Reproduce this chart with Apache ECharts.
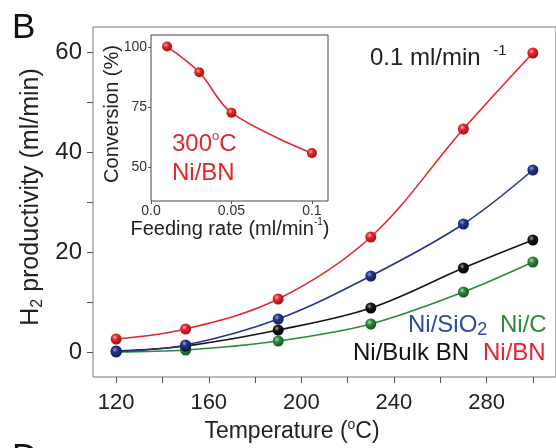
<!DOCTYPE html>
<html>
<head>
<meta charset="utf-8">
<script src="https://cdn.jsdelivr.net/npm/echarts@6/dist/echarts.min.js"></script>
<style>
  html, body { margin: 0; padding: 0; background: #fff; }
  #chart { width: 556px; height: 448px; }
</style>
</head>
<body>
<div id="chart"></div>
<script>
// Temperatures (°C) at which H2 productivity was measured
const temperatures = [120, 150, 190, 230, 270, 300];

// H2 productivity (ml/min) per catalyst
const niBN     = [2.6, 4.6, 10.6, 23.0, 44.6, 59.8];
const niSiO2   = [0.1, 1.4, 6.6, 15.2, 25.6, 36.4];
const niBulkBN = [0.2, 1.2, 4.4, 8.8, 16.8, 22.4];
const niC      = [0.0, 0.4, 2.2, 5.6, 12.0, 18.0];

// Inset: conversion of Ni/BN at 300 °C vs feeding rate
const feedingRates = [0.01, 0.03, 0.05, 0.1];
const conversion   = [100.2, 89.5, 72.7, 55.9];

// Tick positions and labels
const tempTicks   = [120, 140, 160, 180, 200, 220, 240, 260, 280, 300];
const tempLabels  = [120, 160, 200, 240, 280];
const prodTicks   = [0, 10, 20, 30, 40, 50, 60];
const prodLabels  = [0, 20, 40, 60];
const rateTicks   = [0, 0.05, 0.1];
const convTicks   = [50, 75, 100];

const FONT = 'Liberation Sans, Arial, sans-serif';

function ball(c, light, dark) {
  return new echarts.graphic.RadialGradient(0.38, 0.35, 0.7, [
    { offset: 0, color: light },
    { offset: 0.35, color: c },
    { offset: 1, color: dark }
  ]);
}

function curve(name, xs, ys, color, light, dark, xi, yi, size) {
  return {
    name: name,
    type: 'line',
    xAxisIndex: xi, yAxisIndex: yi,
    data: xs.map((x, i) => [x, ys[i]]),
    smooth: 0.35,
    symbol: 'circle',
    symbolSize: size,
    lineStyle: { color: color, width: 1.6 },
    itemStyle: { color: ball(color, light, dark), borderWidth: 0 },
    emphasis: { disabled: true },
    z: 3
  };
}

const tickStyle = { color: '#555', width: 1 };

const chart = echarts.init(document.getElementById('chart'), null, { renderer: 'canvas' });
chart.setOption({
  animation: false,
  backgroundColor: '#fff',
  grid: [
    { left: 93, top: 27, width: 467, height: 350, show: true, borderColor: '#777', borderWidth: 1, backgroundColor: 'transparent' },
    { left: 151, top: 35, width: 177, height: 166, show: true, borderColor: '#444', borderWidth: 1, backgroundColor: '#fff', z: 5 }
  ],
  xAxis: [
    {
      gridIndex: 0, type: 'value', min: 110, max: 310,
      axisLine: { show: false, onZero: false },
      splitLine: { show: false },
      axisTick: { show: true, inside: false, length: 6, lineStyle: tickStyle, customValues: tempTicks },
      axisLabel: { customValues: tempLabels, fontSize: 22, fontFamily: FONT, color: '#222', margin: 15 }
    },
    {
      gridIndex: 1, type: 'value', min: 0, max: 0.11,
      axisLine: { show: false, onZero: false },
      splitLine: { show: false },
      axisTick: { show: true, inside: false, length: 3, lineStyle: tickStyle, customValues: rateTicks },
      axisLabel: {
        customValues: rateTicks, fontSize: 14, fontFamily: FONT, color: '#333', margin: 3,
        formatter: v => (v === 0 ? '0.0' : String(+v.toFixed(2)))
      },
      z: 6
    }
  ],
  yAxis: [
    {
      gridIndex: 0, type: 'value', min: -5, max: 65,
      axisLine: { show: false, onZero: false },
      splitLine: { show: false },
      axisTick: { show: true, inside: false, length: 6, lineStyle: tickStyle, customValues: prodTicks },
      axisLabel: { customValues: prodLabels, fontSize: 24, fontFamily: FONT, color: '#222', margin: 11 }
    },
    {
      gridIndex: 1, type: 'value', min: 36, max: 105,
      axisLine: { show: false, onZero: false },
      splitLine: { show: false },
      axisTick: { show: true, inside: false, length: 3, lineStyle: tickStyle, customValues: convTicks },
      axisLabel: { customValues: convTicks, fontSize: 14, fontFamily: FONT, color: '#333', margin: 4 },
      z: 6
    }
  ],
  series: [
    curve('Ni/C', temperatures, niC, '#2b8a3c', '#a8e0b0', '#14501f', 0, 0, 11),
    curve('Ni/Bulk BN', temperatures, niBulkBN, '#151515', '#9a9a9a', '#000', 0, 0, 11),
    curve('Ni/SiO2', temperatures, niSiO2, '#25358a', '#8f9ee0', '#101a55', 0, 0, 11),
    curve('Ni/BN', temperatures, niBN, '#e2262b', '#ffb0b0', '#9e0e12', 0, 0, 11),
    Object.assign(curve('Ni/BN 300', feedingRates, conversion, '#e2262b', '#ffb0b0', '#9e0e12', 1, 1, 10), { z: 8 })
  ],
  graphic: [
    { type: 'text', left: 12, top: 11, style: { text: 'B', font: '35px ' + FONT, fill: '#111' } },
    { type: 'text', left: 12, top: 441, style: { text: 'D', font: '35px ' + FONT, fill: '#111' } },
    {
      type: 'text', x: 31, y: 197, rotation: Math.PI / 2,
      style: {
        text: '{a|H}{s|2}{a| productivity (ml/min)}',
        align: 'center', verticalAlign: 'middle', fill: '#222',
        rich: {
          a: { fontSize: 25, fontFamily: FONT, fill: '#222', lineHeight: 30 },
          s: { fontSize: 16, fontFamily: FONT, fill: '#222', lineHeight: 30, verticalAlign: 'bottom', padding: [9, 0, 0, 0] }
        }
      }
    },
    {
      type: 'text', x: 292, y: 432,
      style: {
        text: '{a|Temperature (}{s|o}{a|C)}',
        align: 'center', verticalAlign: 'middle', fill: '#222',
        rich: {
          a: { fontSize: 23, fontFamily: FONT, fill: '#222', lineHeight: 28 },
          s: { fontSize: 14, fontFamily: FONT, fill: '#222', lineHeight: 28, verticalAlign: 'top', padding: [0, 0, 11, 0] }
        }
      }
    },
    {
      type: 'text', x: 370, y: 58,
      style: {
        text: '{a|0.1 ml/min }{s|-1}',
        align: 'left', verticalAlign: 'middle', fill: '#222',
        rich: {
          a: { fontSize: 24, fontFamily: FONT, fill: '#222', lineHeight: 30 },
          s: { fontSize: 15, fontFamily: FONT, fill: '#222', lineHeight: 30, verticalAlign: 'top', padding: [0, 0, 16, 6] }
        }
      }
    },
    {
      type: 'text', x: 408, y: 325,
      style: {
        text: '{a|Ni/SiO}{s|2}',
        align: 'left', verticalAlign: 'middle',
        rich: {
          a: { fontSize: 24, fontFamily: FONT, fill: '#2f4a9e', lineHeight: 28 },
          s: { fontSize: 18, fontFamily: FONT, fill: '#2f4a9e', lineHeight: 28, verticalAlign: 'bottom' }
        }
      }
    },
    { type: 'text', x: 500, y: 325, style: { text: 'Ni/C', font: '24px ' + FONT, fill: '#2b8a3c', align: 'left', verticalAlign: 'middle' } },
    { type: 'text', x: 353, y: 353, style: { text: 'Ni/Bulk BN', font: '24px ' + FONT, fill: '#111', align: 'left', verticalAlign: 'middle' } },
    { type: 'text', x: 483, y: 353, style: { text: 'Ni/BN', font: '24px ' + FONT, fill: '#e2262b', align: 'left', verticalAlign: 'middle' } },
    {
      type: 'text', x: 172, y: 144, z: 20,
      style: {
        text: '{a|300}{s|o}{a|C}',
        align: 'left', verticalAlign: 'middle',
        rich: {
          a: { fontSize: 24, fontFamily: FONT, fill: '#e2262b', lineHeight: 28 },
          s: { fontSize: 13, fontFamily: FONT, fill: '#e2262b', lineHeight: 28, verticalAlign: 'top', padding: [0, 0, 13, 0] }
        }
      }
    },
    { type: 'text', x: 172, y: 173, z: 20, style: { text: 'Ni/BN', font: '24px ' + FONT, fill: '#e2262b', align: 'left', verticalAlign: 'middle' } },
    {
      type: 'text', x: 112, y: 114, rotation: Math.PI / 2, z: 20,
      style: { text: 'Conversion (%)', font: '20px ' + FONT, fill: '#222', align: 'center', verticalAlign: 'middle' }
    },
    {
      type: 'text', x: 230, y: 229, z: 20,
      style: {
        text: '{a|Feeding rate (ml/min}{s|-1}{a|)}',
        align: 'center', verticalAlign: 'middle',
        rich: {
          a: { fontSize: 20, fontFamily: FONT, fill: '#222', lineHeight: 24 },
          s: { fontSize: 10, fontFamily: FONT, fill: '#222', lineHeight: 24, verticalAlign: 'top', padding: [0, 0, 11, 0] }
        }
      }
    }
  ]
});
</script>
</body>
</html>
